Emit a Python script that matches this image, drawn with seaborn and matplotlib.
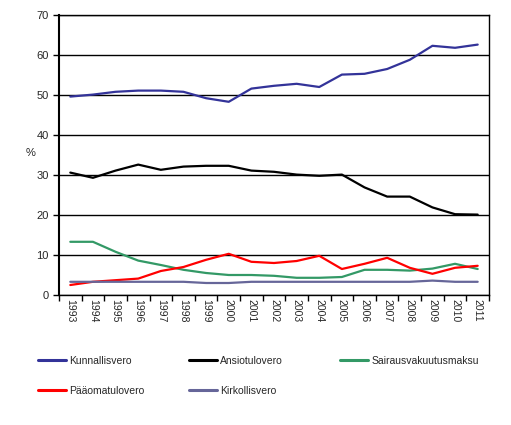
import pandas as pd
import numpy as np
import matplotlib
matplotlib.use("Agg")
import matplotlib.pyplot as plt
import seaborn as sns

years = list(range(1993, 2012))

kunnallisvero = [49.6, 50.1, 50.8, 51.1, 51.1, 50.8, 49.2, 48.3, 51.6, 52.3,
                 52.8, 52.0, 55.1, 55.3, 56.5, 58.8, 62.3, 61.8, 62.6]
ansiotulovero = [30.6, 29.3, 31.1, 32.6, 31.3, 32.1, 32.3, 32.3, 31.1, 30.8,
                 30.1, 29.8, 30.1, 26.9, 24.6, 24.6, 21.9, 20.2, 20.1]
sairausvakuutusmaksu = [13.3, 13.3, 10.8, 8.6, 7.5, 6.3, 5.5, 5.0, 5.0, 4.8,
                        4.3, 4.3, 4.5, 6.3, 6.3, 6.1, 6.6, 7.8, 6.5]
paaomatulovero = [2.5, 3.3, 3.7, 4.1, 6.0, 7.0, 8.8, 10.3, 8.3, 8.0,
                  8.5, 9.8, 6.5, 7.8, 9.3, 6.8, 5.3, 6.8, 7.3]
kirkollisvero = [3.3, 3.3, 3.3, 3.3, 3.3, 3.3, 3.0, 3.0, 3.3, 3.3,
                 3.3, 3.3, 3.3, 3.3, 3.3, 3.3, 3.6, 3.3, 3.3]

series_names = ["Kunnallisvero", "Ansiotulovero", "Sairausvakuutusmaksu",
                "Pääomatulovero", "Kirkollisvero"]
series_values = [kunnallisvero, ansiotulovero, sairausvakuutusmaksu,
                 paaomatulovero, kirkollisvero]
colors = ["#333399", "#000000", "#339966", "#FF0000", "#666699"]

frames = []
for name, vals in zip(series_names, series_values):
    frames.append(pd.DataFrame({"Vuosi": years, "Osuus": vals, "Vero": name}))
df = pd.concat(frames, ignore_index=True)

sns.set_style("white")
plt.rcParams["font.family"] = ["Liberation Sans", "DejaVu Sans"]

fig = plt.figure(figsize=(5.11, 4.25), dpi=100)
ax = fig.add_axes([59 / 511, 130 / 425, 430 / 511, 280 / 425])

sns.lineplot(data=df, x="Vuosi", y="Osuus", hue="Vero", hue_order=series_names,
             palette=dict(zip(series_names, colors)), linewidth=1.6, ax=ax,
             legend=False)

ax.set_xlim(1992.5, 2011.5)
ax.set_ylim(0, 70)
ax.set_yticks(np.arange(0, 71, 10))
ax.yaxis.grid(True, color="black", linewidth=1)
ax.set_axisbelow(True)

# tick marks between categories, labels centred on the years
ax.set_xticks(np.arange(1992.5, 2012, 1))
ax.set_xticklabels([])
ax.set_xticks(years, minor=True)
ax.set_xticklabels([str(y) for y in years], minor=True, rotation=270,
                   fontsize=7.5)
ax.tick_params(axis="x", which="major", direction="out", length=4, width=1,
               color="black", bottom=True)
ax.tick_params(axis="x", which="minor", length=0, pad=3)
ax.tick_params(axis="y", direction="out", length=4, width=1, color="black",
               left=True, labelsize=8)

for side in ["left", "right", "top", "bottom"]:
    ax.spines[side].set_color("black")
    ax.spines[side].set_linewidth(1)
ax.spines["left"].set_linewidth(1.5)

ax.set_xlabel("")
ax.set_ylabel("")
fig.text(31 / 511, 1 - 153 / 425, "%", fontsize=8, ha="center", va="center")

# legend laid out in three fixed columns
lines = ax.get_lines()
handles = {name: line for name, line in zip(series_names, lines)}
columns = [["Kunnallisvero", "Pääomatulovero"],
           ["Ansiotulovero", "Kirkollisvero"],
           ["Sairausvakuutusmaksu"]]
col_x = [36, 187, 338]
for names, x in zip(columns, col_x):
    leg = fig.legend([handles[n] for n in names], names, loc="upper left",
                     bbox_to_anchor=(x / 511, 1 - 354 / 425), frameon=False,
                     fontsize=7.5, handlelength=2.7, handletextpad=0.3,
                     labelspacing=1.9, borderaxespad=0, borderpad=0.2)
    for line in leg.get_lines():
        line.set_linewidth(2.2)

fig.savefig("out.png", dpi=100)
